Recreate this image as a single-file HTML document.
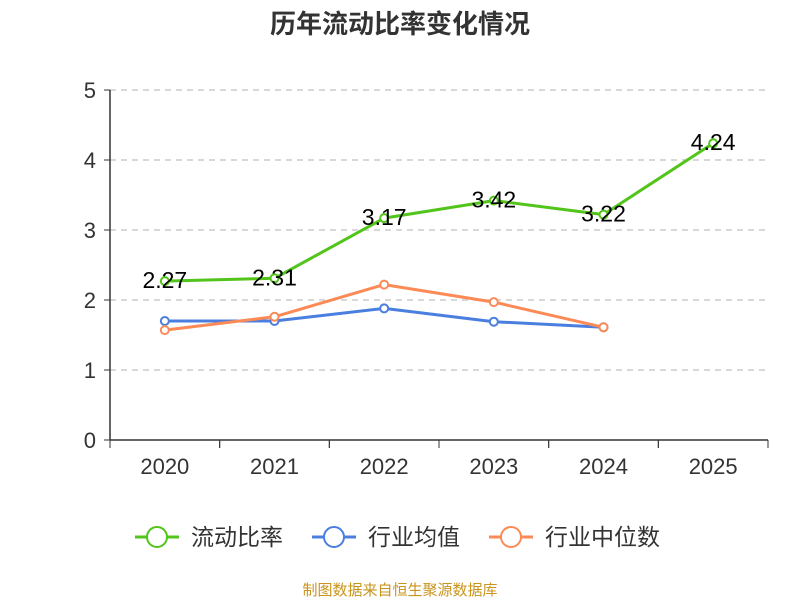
<!DOCTYPE html>
<html><head><meta charset="utf-8"><style>
body{margin:0;background:#fff;font-family:"Liberation Sans","Noto Sans CJK SC",sans-serif}
</style></head><body>
<svg id="c" width="800" height="600" xmlns="http://www.w3.org/2000/svg" font-family="Liberation Sans, Noto Sans CJK SC, sans-serif"></svg>
<script>
const categories=["2020","2021","2022","2023","2024","2025"];
const ratioValues=[2.27,2.31,3.17,3.42,3.22,4.24];
const industryAvg=[1.70,1.70,1.88,1.69,1.61];
const industryMedian=[1.57,1.76,2.22,1.97,1.61];
const yTicks=[0,1,2,3,4,5];
const svg=document.getElementById('c');
const NS='http://www.w3.org/2000/svg';
const L=110,R=768,T=90,B=440,band=(R-L)/categories.length;
const x=i=>L+band*(i+0.5);
const y=v=>B-(v/5)*(B-T);
function mk(tag,attrs,text){const e=document.createElementNS(NS,tag);for(const k in attrs)e.setAttribute(k,attrs[k]);if(text!==undefined)e.textContent=text;svg.appendChild(e);return e;}
let t=mk('text',{x:400,y:33,'text-anchor':'middle','font-size':26,'font-weight':'bold',fill:'#333'},'历年流动比率变化情况');


yTicks.forEach(v=>{
 if(v>0){const g=mk('line',{x1:L,x2:R,y1:y(v),y2:y(v),stroke:'#ccc','stroke-dasharray':'6,5','stroke-width':1.5});
 
 }
 const tk=mk('line',{x1:L-6,x2:L,y1:y(v),y2:y(v),stroke:'#333'});
 
 
 const lb=mk('text',{x:L-14,y:y(v)+8,'text-anchor':'end','font-size':22,fill:'#333'},v);
 
 
});
let ax=mk('line',{x1:L,x2:L,y1:T,y2:B,stroke:'#333','stroke-width':1.5});


ax=mk('line',{x1:L,x2:R,y1:B,y2:B,stroke:'#333','stroke-width':1.5});


categories.forEach((c,i)=>{
 for(const xx of [L+band*i,L+band*(i+1)]){const tk=mk('line',{x1:xx,x2:xx,y1:B,y2:B+8,stroke:'#333'});
 
 }
 const lb=mk('text',{x:x(i),y:474,'text-anchor':'middle','font-size':22,fill:'#333'},c);
 
 
});
function series(vals,color,name,labels){
 const pts=vals.map((v,i)=>x(i)+','+y(v)).join(' ');
 const p=mk('polyline',{points:pts,fill:'none',stroke:color,'stroke-width':3,'stroke-linejoin':'round'});
 
 
 vals.forEach((v,i)=>{
  const c=mk('circle',{cx:x(i),cy:y(v),r:4,fill:'#fff',stroke:color,'stroke-width':2});
  
  
 });
 if(labels)vals.forEach((v,i)=>{
  const l=mk('text',{x:x(i),y:y(v)+7,'text-anchor':'middle','font-size':23,fill:'#000'},v.toFixed(2));
  
  
 });
}
series(industryAvg,'#4a7fe0','industry-average',false);
series(industryMedian,'#fb8a56','industry-median',false);
series(ratioValues,'#52c41a','current-ratio',true);
const leg=[['流动比率','#52c41a',135],['行业均值','#4a7fe0',312],['行业中位数','#fb8a56',489]];
leg.forEach(([n,c,lx])=>{
 const l=mk('line',{x1:lx,x2:lx+44,y1:537,y2:537,stroke:c,'stroke-width':3});
 
 
 const ci=mk('circle',{cx:lx+22,cy:537,r:10,fill:'#fff',stroke:c,'stroke-width':2});
 
 
 const tx=mk('text',{x:lx+56,y:545,'font-size':23,fill:'#333'},n);
 
 
});
t=mk('text',{x:400,y:595,'text-anchor':'middle','font-size':15,fill:'#c8941c'},'制图数据来自恒生聚源数据库');


</script>
</body></html>
